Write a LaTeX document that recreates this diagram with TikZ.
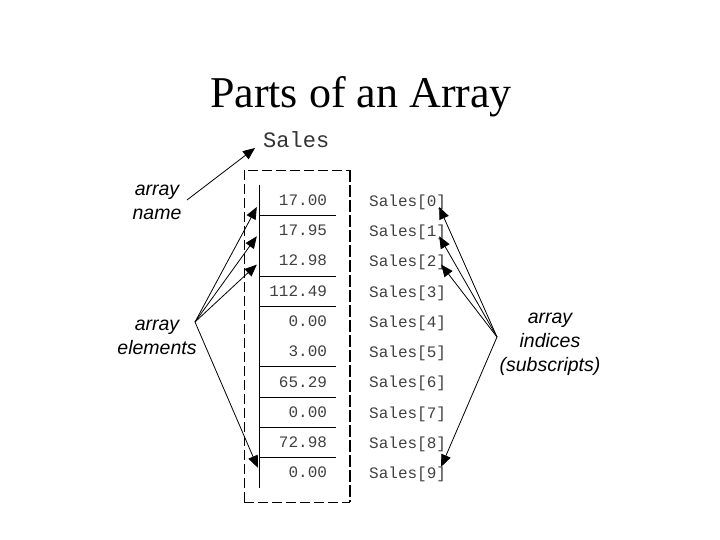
\documentclass[tikz,border=0pt]{standalone}
\usepackage{fontspec}
\setmainfont{Liberation Serif}
\setsansfont{Liberation Sans}
\setmonofont{Liberation Mono}
\usetikzlibrary{arrows.meta,calc}
\begin{document}
\begin{tikzpicture}[x=1pt,y=-1pt,
  cell/.style={font=\fontsize{16}{18}\selectfont\ttfamily, text=black!75,
    text width=58pt, align=right, inner xsep=9pt, inner ysep=0pt,
    minimum height=30.3pt},
  idx/.style={font=\fontsize{16}{18}\selectfont\ttfamily, text=black!75,
    inner sep=0pt, anchor=west},
  lbl/.style={font=\fontsize{19.5}{24}\selectfont\sffamily\itshape,
    align=center, inner sep=0pt, anchor=base},
  ptr/.style={-{Triangle[length=12pt,width=10pt]}, line width=0.8pt},
  sepline/.style={line width=0.9pt},
  thindash/.style={line width=0.8pt, dash pattern=on 10pt off 4pt},
  thickdash/.style={line width=2pt, dash pattern=on 12pt off 3pt}]
\useasboundingbox (0,0) rectangle (720,540);

% title
\node[font=\fontsize{44}{48}\selectfont, anchor=base, inner sep=0pt] (title) at (361,108) {Parts of an Array};

% array name
\node[font=\fontsize{22}{24}\selectfont\ttfamily, text=black!80, anchor=base west, inner sep=0pt] (sales) at (263,148) {Sales};

% dashed frame
\coordinate (fTL) at (244,170);
\coordinate (fBR) at (350,502);
\draw[thindash] (fTL |- fBR) -- (fTL) -- (fTL -| fBR);
\draw[thindash] (fTL |- fBR) -- (fBR);
\draw[thickdash] (fTL -| fBR) -- (fBR);

% cells
\foreach \v [count=\i from 0] in {17.00,17.95,12.98,112.49,0.00,3.00,65.29,0.00,72.98,0.00} {
  \node[cell] (cell\i) at (298,{200+30.3*\i}) {\v};
  \node[idx] (idx\i) at (369,{202+30.3*\i}) {Sales[\i]};
}

% vertical line and separators
\draw[sepline] (cell0.north west) -- (cell9.south west);
\foreach \k in {0,2,3,5,6,7,8} {
  \draw[sepline] (cell\k.south west) -- (cell\k.south east);
}

% labels (base anchor = baseline of last line)
\node[lbl] (nm) at (157,219) {array\\name};
\node[lbl] (el) at (157,354) {array\\elements};
\node[lbl] (ix) at (550,371) {array\\indices\\(subscripts)};

\coordinate (pN) at (187,200);
\coordinate (pE) at (195,322);
\coordinate (pI) at (497,337);

% arrows
\draw[ptr] (pN) -- ($(sales.base west)+(-8,0)$);
\draw[ptr] (pE) -- ($(cell0.west)+(-3,7)$);
\draw[ptr] (pE) -- ($(cell1.west)+(-3,6)$);
\draw[ptr] (pE) -- ($(cell2.west)+(-3,4)$);
\draw[ptr] (pE) -- ($(cell9.west)+(-2,-5)$);
\draw[ptr] (pI) -- ($(idx0.east)+(-7,5)$);
\draw[ptr] (pI) -- ($(idx1.east)+(-7,4)$);
\draw[ptr] (pI) -- ($(idx2.east)+(-5,2)$);
\draw[ptr] (pI) -- ($(idx9.east)+(-5,-8)$);
\end{tikzpicture}
\end{document}
